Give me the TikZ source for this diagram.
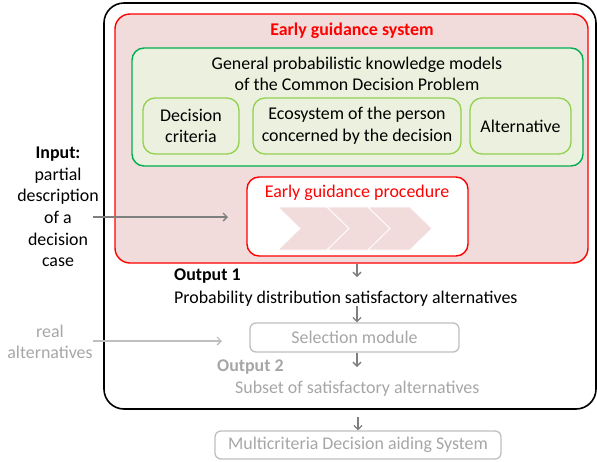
\documentclass[tikz,border=0pt]{standalone}
\usepackage{fontspec}
\setmainfont{Carlito}
\usepackage{tikz}
\usetikzlibrary{arrows.meta}
\definecolor{egsred}{HTML}{FF0000}
\definecolor{egspink}{HTML}{F2DCDB}
\definecolor{kmgreen}{HTML}{00B050}
\definecolor{kmfill}{HTML}{EBF1DE}
\definecolor{subgreen}{HTML}{92D050}
\definecolor{arrgray}{HTML}{7F7F7F}
\definecolor{txtgray}{HTML}{A6A6A6}
\definecolor{boxgray}{HTML}{BFBFBF}
\newcommand{\bodyfont}{\fontsize{17.9}{21.6}\selectfont}
\tikzset{every node/.style={font=\bodyfont, inner sep=0pt, align=center},
  box/.style={rectangle, rounded corners=12pt},
  sub/.style={box, draw=subgreen, line width=1.3pt, fill=kmfill, minimum height=56pt},
  greybox/.style={box, rounded corners=6pt, draw=boxgray, line width=1.3pt, text=txtgray},
  arr/.style={-{Straight Barb[length=4pt,width=8pt]}, draw=arrgray, line width=1.3pt}}

\begin{document}
\begin{tikzpicture}[x=1pt,y=-1pt]
    \useasboundingbox (0,0) rectangle (597,461);
    % outer system
    \node[box, rounded corners=20pt, draw=black, line width=1.6pt, minimum width=492, minimum height=406] (sys) at (350,206) {};
    \node[box, rounded corners=15pt, draw=egsred, line width=1.4pt, fill=egspink, minimum width=473, minimum height=249] (egs) at (351.5,138.5) {};
    \node[text=egsred, font=\bodyfont\bfseries] (egstitle) at (352,31) {Early guidance system};
    % knowledge models
    \node[box, draw=kmgreen, line width=1.4pt, fill=kmfill, minimum width=451, minimum height=118] (km) at (357.5,107) {};
    \node (kmtext) at (357,74) {General probabilistic knowledge models\\of the Common Decision Problem};
    \node[sub, minimum width=96] (crit) at (191,126) {Decision\\criteria};
    \node[sub, minimum width=208] (eco) at (357,126) {Ecosystem of the person\\concerned by the decision};
    \node[sub, minimum width=101] (alt) at (520.5,126) {Alternative};
    % procedure
    \node[box, draw=egsred, line width=1.4pt, fill=white, minimum width=221, minimum height=79] (egp) at (357.5,216.5) {};
    \node[text=egsred] (egptext) at (357,193) {Early guidance procedure};
    \foreach \xa/\xb in {278/327, 327/368, 368/410}
      \draw[fill=egspink, draw=white, line width=0.8pt] (\xa,207) -- (\xb,207) -- (\xb+22,228.5) -- (\xb,250) -- (\xa,250) -- (\xa+22,228.5) -- cycle;
    % input
    \node (input) at (58,207) {\textbf{Input:}\\partial\\description\\of a\\decision\\case};
    \coordinate (inA) at (93,217);
    \coordinate (inB) at (228,217);
    \draw[arr] (inA) -- (inB);
    % outputs
    \coordinate (o1) at (357,277);
    \draw[arr] (egs.south -| o1) -- (o1);
    \node[anchor=west, font=\bodyfont\bfseries] (out1) at (174,276) {Output 1};
    \node[anchor=west] (prob) at (174,299) {Probability distribution satisfactory alternatives};
    \node[greybox, minimum width=209, minimum height=29] (sel) at (354.5,337.5) {Selection module};
    \draw[arr] (prob.south -| o1) ++(0,-1) -- (sel.north -| o1);
    \node[text=txtgray] (real) at (50,342) {real\\alternatives};
    \coordinate (rA) at (93,341);
    \coordinate (rB) at (222,341);
    \draw[arr, draw=boxgray] (rA) -- (rB);
    \coordinate (o2) at (357,367);
    \draw[arr] (sel.south -| o2) -- (o2);
    \node[anchor=west, text=txtgray, font=\bodyfont\bfseries] (out2) at (217,367) {Output 2};
    \node[anchor=west, text=txtgray] (subset) at (235,389) {Subset of satisfactory alternatives};
    \node[greybox, minimum width=286, minimum height=28] (mcda) at (358,445) {Multicriteria Decision aiding System};
    \draw[arr, shorten <=7pt] (sys.south -| mcda) -- (mcda.north);
\end{tikzpicture}
\end{document}
